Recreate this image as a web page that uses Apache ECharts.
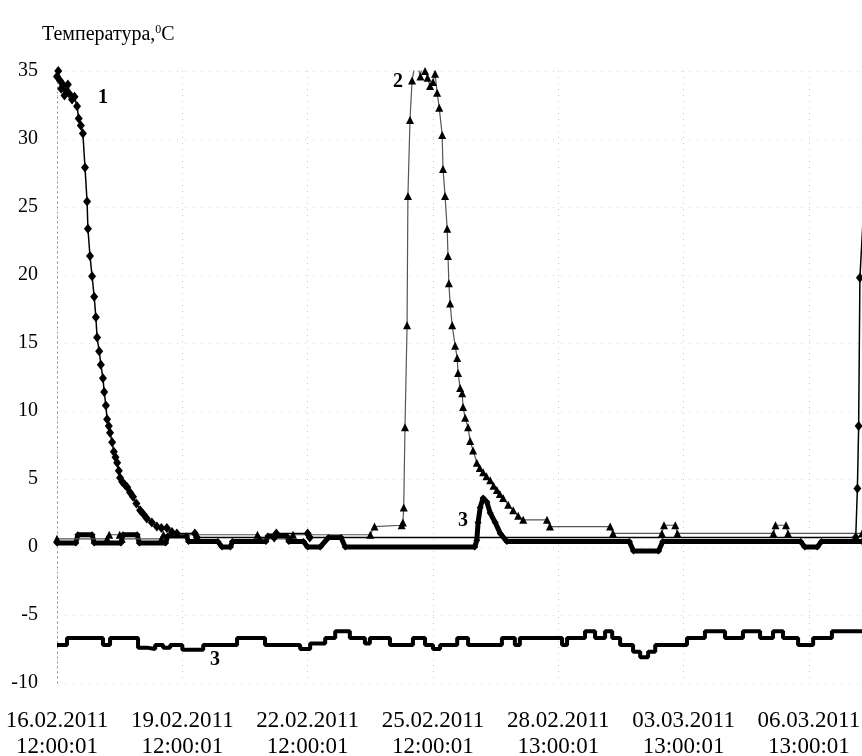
<!DOCTYPE html>
<html>
<head>
<meta charset="utf-8">
<script src="https://cdn.jsdelivr.net/npm/echarts@6/dist/echarts.min.js"></script>
<style>
  html, body { margin: 0; padding: 0; background: #fff; }
  #chart { width: 862px; height: 756px; }
</style>
</head>
<body>
<div id="chart"></div>
<script>
var chartDom = document.getElementById('chart');
var myChart = echarts.init(chartDom);

// x = days since 16.02.2011 12:00:01, y = temperature
var xLabels = ['16.02.2011\n12:00:01', '19.02.2011\n12:00:01', '22.02.2011\n12:00:01',
  '25.02.2011\n12:00:01', '28.02.2011\n13:00:01', '03.03.2011\n13:00:01', '06.03.2011\n13:00:01'];

var curve1 = [
  [0.00, 34.6], [0.03, 35.0], [0.07, 34.3], [0.10, 33.7], [0.14, 34.0], [0.18, 33.2], [0.22, 33.6],
  [0.26, 34.0], [0.30, 33.3], [0.36, 32.9], [0.42, 33.1], [0.48, 32.4], [0.52, 31.5], [0.57, 31.0],
  [0.62, 30.4], [0.67, 27.9], [0.72, 25.4], [0.74, 23.4], [0.79, 21.4], [0.84, 19.9], [0.89, 18.4],
  [0.93, 16.9], [0.96, 15.4], [1.01, 14.4], [1.05, 13.4], [1.10, 12.4], [1.13, 11.4], [1.17, 10.4],
  [1.20, 9.4], [1.24, 8.9], [1.27, 8.4], [1.32, 7.7], [1.36, 7.0], [1.40, 6.6], [1.44, 6.2],
  [1.48, 5.6], [1.51, 5.1], [1.56, 4.8], [1.62, 4.6], [1.68, 4.4], [1.75, 4.0], [1.82, 3.7],
  [1.90, 3.2], [1.99, 2.7], [2.07, 2.4], [2.15, 2.1], [2.27, 1.8], [2.39, 1.5], [2.50, 1.4],
  [2.63, 1.4], [2.75, 1.1], [2.87, 1.0], [3.30, 1.0], [3.35, 0.7], [5.20, 0.7], [5.25, 1.0],
  [6.00, 1.0], [6.05, 0.7], [19.12, 0.7], [19.16, 4.3], [19.19, 8.9], [19.22, 19.8], [19.40, 30]
];

var curve2 = [
  [0.00, 0.6], [1.20, 0.6], [1.25, 0.9], [1.50, 0.9], [1.55, 0.6], [2.50, 0.6], [2.55, 0.9],
  [4.80, 0.9], [4.85, 0.6], [5.60, 0.6], [5.65, 0.9], [7.50, 0.9], [7.60, 1.5], [8.25, 1.6],
  [8.28, 1.8], [8.30, 2.9], [8.33, 8.8], [8.38, 16.3], [8.40, 25.8], [8.45, 31.4], [8.50, 34.3],
  [8.57, 35.5], [8.64, 35.3], [8.70, 34.6], [8.74, 35.5], [8.81, 35.0], [8.87, 34.5], [8.93, 33.9],
  [9.00, 34.2], [9.05, 34.8], [9.10, 33.4], [9.15, 32.3], [9.22, 30.3], [9.24, 27.8], [9.29, 25.8],
  [9.34, 23.4], [9.36, 21.4], [9.38, 19.4], [9.41, 17.9], [9.46, 16.3], [9.53, 14.8], [9.58, 13.9],
  [9.60, 12.8], [9.65, 11.7], [9.70, 11.3], [9.72, 10.3], [9.77, 9.5], [9.84, 8.8], [9.89, 7.8],
  [9.96, 7.1], [10.05, 6.2], [10.12, 5.8], [10.20, 5.5], [10.28, 5.2], [10.37, 4.9], [10.45, 4.5],
  [10.53, 4.2], [10.60, 3.9], [10.68, 3.6], [10.80, 3.1], [10.92, 2.7], [11.04, 2.3], [11.16, 2.0],
  [11.73, 2.0], [11.80, 1.5], [13.24, 1.5], [13.31, 1.0], [14.48, 1.0], [14.53, 1.6], [14.80, 1.6],
  [14.85, 1.0], [17.15, 1.0], [17.20, 1.6], [17.45, 1.6], [17.50, 1.0], [19.27, 1.0]
];

var curve3 = [
  [0.00, 0.3], [0.45, 0.3], [0.50, 0.9], [0.84, 0.9], [0.89, 0.3], [1.53, 0.3], [1.58, 0.9],
  [1.92, 0.9], [1.97, 0.3], [2.60, 0.3], [2.65, 0.8], [3.10, 0.8], [3.15, 0.4], [3.85, 0.4],
  [3.95, 0.0], [4.15, 0.0], [4.20, 0.4], [5.00, 0.4], [5.05, 0.8], [5.50, 0.8], [5.55, 0.4],
  [5.90, 0.4], [6.00, 0.0], [6.30, 0.0], [6.50, 0.7], [6.80, 0.7], [6.90, 0.0], [10.00, 0.0],
  [10.05, 0.5], [10.08, 1.8], [10.13, 2.9], [10.20, 3.6], [10.29, 3.3], [10.37, 2.5], [10.49, 1.8],
  [10.61, 1.0], [10.77, 0.4], [13.70, 0.4], [13.80, -0.3], [14.40, -0.3], [14.50, 0.4], [17.80, 0.4],
  [17.90, 0.0], [18.20, 0.0], [18.30, 0.4], [19.27, 0.4]
];

// outdoor curve (lower "3"), step changes
var curve4 = [
  [0.00, -7.2], [0.24, -6.7], [1.10, -7.2], [1.27, -6.7], [1.94, -7.4], [2.15, -7.5], [2.35, -7.2],
  [2.54, -7.4], [2.71, -7.2], [3.00, -7.55], [3.50, -7.2], [4.31, -6.7], [4.98, -7.2], [5.82, -7.5],
  [6.06, -7.1], [6.42, -6.7], [6.66, -6.2], [7.01, -6.7], [7.37, -7.1], [7.49, -6.7], [7.97, -7.2],
  [8.52, -6.7], [8.81, -7.2], [9.00, -7.5], [9.17, -7.2], [9.58, -6.7], [9.84, -7.2], [10.65, -6.7],
  [10.96, -7.2], [11.08, -6.7], [12.09, -7.2], [12.21, -6.7], [12.64, -6.2], [12.88, -6.7],
  [13.12, -6.2], [13.29, -6.7], [13.48, -7.2], [13.79, -7.7], [13.96, -8.1], [14.15, -7.7],
  [14.32, -7.2], [15.08, -6.7], [15.51, -6.2], [15.99, -6.7], [16.42, -6.2], [16.83, -6.7],
  [17.14, -6.2], [17.38, -6.7], [17.74, -7.2], [18.10, -6.7], [18.55, -6.2], [19.27, -6.2]
];

// curve annotations [day, temp]
var tag1 = [1.10, 33.0];
var tag2 = [8.16, 34.2];
var tag3 = [9.72, 1.9];
var tag3b = [3.78, -8.3];

var serif = "'Liberation Serif', 'Times New Roman', serif";

function tag(coord, text) {
  return {
    symbol: 'circle',
    symbolSize: 1,
    itemStyle: { color: 'rgba(0,0,0,0)' },
    label: { show: true, position: 'inside', formatter: text, color: '#000',
      fontFamily: serif, fontSize: 20, fontWeight: 'bold' },
    data: [{ coord: coord }]
  };
}

var option = {
  animation: false,
  title: {
    text: 'Температура,{sup|0}C',
    left: 37,
    top: 19,
    textStyle: {
      fontFamily: serif, fontSize: 20, fontWeight: 'normal', color: '#000',
      rich: { sup: { fontFamily: serif, fontSize: 12, verticalAlign: 'top', padding: [0, 0, 9, 0] } }
    }
  },
  grid: { left: 57, right: 0, top: 71, bottom: 73, outerBoundsMode: 'none', containLabel: false },
  xAxis: {
    type: 'value',
    min: 0,
    max: 19.27,
    interval: 3,
    axisLine: { show: false },
    axisTick: { show: false },
    splitLine: { show: true, lineStyle: { color: '#c8c8c8', type: [1, 5], width: 1 } },
    axisLabel: {
      showMaxLabel: false,
      margin: 25,
      fontFamily: serif, fontSize: 23, lineHeight: 26, color: '#000',
      formatter: function (v) {
        var i = Math.round(v / 3);
        return Math.abs(v - i * 3) < 1e-6 && xLabels[i] ? xLabels[i] : '';
      }
    }
  },
  yAxis: {
    type: 'value',
    min: -10,
    max: 35,
    interval: 5,
    axisLine: { show: true, lineStyle: { color: '#888', type: [1, 4], width: 1 } },
    axisTick: { show: false },
    splitLine: { show: true, lineStyle: { color: '#d8d8d8', type: [1, 7], width: 1 } },
    axisLabel: { margin: 19, fontFamily: serif, fontSize: 20, color: '#000' }
  },
  series: [
    {
      name: '4',
      type: 'line',
      data: curve4,
      step: 'end',
      symbol: 'none',
      lineStyle: { color: '#000', width: 4 },
      markPoint: tag(tag3b, '3')
    },
    {
      name: '3',
      type: 'line',
      data: curve3,
      symbol: 'diamond',
      symbolSize: 7,
      itemStyle: { color: '#000' },
      lineStyle: { color: '#000', width: 5 },
      markPoint: tag(tag3, '3')
    },
    {
      name: '2',
      type: 'line',
      data: curve2,
      symbol: 'triangle',
      symbolSize: 8,
      itemStyle: { color: '#000' },
      lineStyle: { color: '#555', width: 1.2 },
      markPoint: tag(tag2, '2')
    },
    {
      name: '1',
      type: 'line',
      data: curve1,
      symbol: 'diamond',
      symbolSize: [8, 10],
      itemStyle: { color: '#000' },
      lineStyle: { color: '#000', width: 1.5 },
      markPoint: tag(tag1, '1')
    }
  ]
};

myChart.setOption(option);
</script>
</body>
</html>
